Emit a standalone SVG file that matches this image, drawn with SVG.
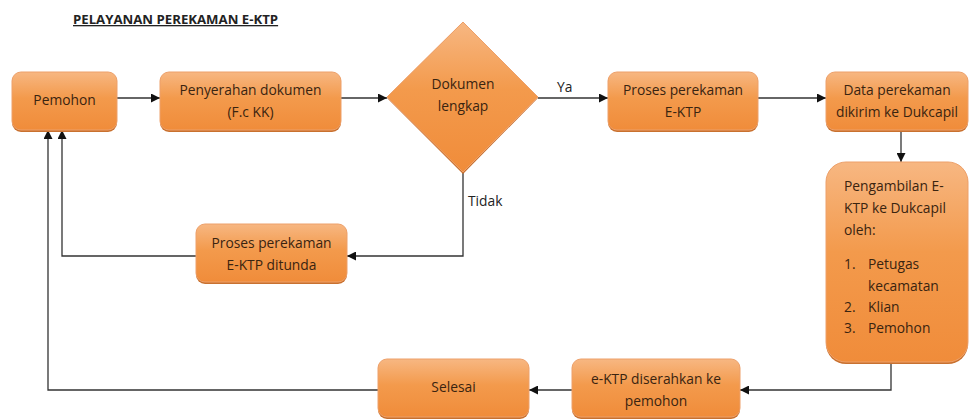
<svg xmlns="http://www.w3.org/2000/svg" width="969" height="420" viewBox="0 0 969 420">
<defs>
<linearGradient id="og" x1="0" y1="0" x2="0" y2="1">
<stop offset="0" stop-color="#f7b782"/>
<stop offset="0.45" stop-color="#f39a4c"/>
<stop offset="1" stop-color="#f08c3a"/>
</linearGradient>
<marker id="ah" viewBox="0 0 10 10" refX="10" refY="5" markerWidth="9" markerHeight="9" markerUnits="userSpaceOnUse" orient="auto">
<path d="M0,0 L10,5 L0,10 z" fill="#111"/>
</marker>
</defs>
<style>
.nd{fill:url(#og);stroke:#eda06a;stroke-width:1}
.sh{fill:#c9712f}
.t{font-family:"Open Sans","Liberation Sans",sans-serif;font-size:13.8px;fill:#3a2410;text-anchor:middle}
.tl{font-family:"Open Sans","Liberation Sans",sans-serif;font-size:13.8px;fill:#3a2410}
.lb{font-family:"Open Sans","Liberation Sans",sans-serif;font-size:13.8px;fill:#222}
.c{fill:none;stroke:#333;stroke-width:1.3}
.ttl{font-family:"Open Sans","Liberation Sans",sans-serif;font-size:13.2px;font-weight:bold;fill:#222;text-decoration:underline}
</style>
<rect width="969" height="420" fill="#fff"/>
<text class="ttl" x="73" y="24">PELAYANAN PEREKAMAN E-KTP</text>

<g id="connectors">
<path class="c" d="M117,98 L160,98" marker-end="url(#ah)"/>
<path class="c" d="M341,98 L387,98" marker-end="url(#ah)"/>
<path class="c" d="M538,98 L608,98" marker-end="url(#ah)"/>
<path class="c" d="M758,98 L826,98" marker-end="url(#ah)"/>
<path class="c" d="M901,131 L901,162" marker-end="url(#ah)"/>
<path class="c" d="M891,362 L891,390 L740,390" marker-end="url(#ah)"/>
<path class="c" d="M572,390 L529,390" marker-end="url(#ah)"/>
<path class="c" d="M378,390 L48,390 L48,130" marker-end="url(#ah)"/>
<path class="c" d="M463,172 L463,256 L347,256" marker-end="url(#ah)"/>
<path class="c" d="M196,256 L62,256 L62,130" marker-end="url(#ah)"/>
<text class="lb" x="557" y="92">Ya</text>
<text class="lb" x="468" y="206">Tidak</text>
</g>

<g id="pemohon">
<rect class="sh" x="12" y="74" width="105" height="58" rx="9"/>
<rect class="nd" x="12" y="72" width="105" height="58" rx="9"/>
<text class="t" x="64.5" y="105">Pemohon</text>
</g>

<g id="penyerahan">
<rect class="sh" x="160" y="74" width="181" height="58" rx="9"/>
<rect class="nd" x="160" y="72" width="181" height="58" rx="9"/>
<text class="t" x="250.5" y="95">Penyerahan dokumen</text>
<text class="t" x="250.5" y="117">(F.c KK)</text>
</g>

<g id="dokumen">
<path d="M463,22 L538,98 L463,174 L387,98 z" fill="#c9712f"/>
<path class="nd" d="M463,22 L538,97 L463,172 L387,97 z"/>
<text class="t" x="463" y="89">Dokumen</text>
<text class="t" x="463" y="111">lengkap</text>
</g>

<g id="proses">
<rect class="sh" x="608" y="74" width="150" height="58" rx="9"/>
<rect class="nd" x="608" y="72" width="150" height="58" rx="9"/>
<text class="t" x="683" y="95">Proses perekaman</text>
<text class="t" x="683" y="117">E-KTP</text>
</g>

<g id="data">
<rect class="sh" x="826" y="74" width="142" height="58" rx="9"/>
<rect class="nd" x="826" y="72" width="142" height="58" rx="9"/>
<text class="t" x="897" y="95">Data perekaman</text>
<text class="t" x="897" y="117">dikirim ke Dukcapil</text>
</g>

<g id="pengambilan">
<rect class="sh" x="826" y="164" width="142" height="200" rx="20"/>
<rect class="nd" x="826" y="162" width="142" height="200" rx="20"/>
<text class="tl" x="844" y="191">Pengambilan E-</text>
<text class="tl" x="844" y="213">KTP ke Dukcapil</text>
<text class="tl" x="844" y="235">oleh:</text>
<text class="tl" x="844" y="269">1.</text>
<text class="tl" x="868" y="269">Petugas</text>
<text class="tl" x="868" y="291">kecamatan</text>
<text class="tl" x="844" y="312">2.</text>
<text class="tl" x="868" y="312">Klian</text>
<text class="tl" x="844" y="333">3.</text>
<text class="tl" x="868" y="333">Pemohon</text>
</g>

<g id="tunda">
<rect class="sh" x="196" y="226" width="151" height="58" rx="9"/>
<rect class="nd" x="196" y="224" width="151" height="58" rx="9"/>
<text class="t" x="271.5" y="248">Proses perekaman</text>
<text class="t" x="271.5" y="270">E-KTP ditunda</text>
</g>

<g id="diserahkan">
<rect class="sh" x="572" y="361" width="168" height="58" rx="9"/>
<rect class="nd" x="572" y="359" width="168" height="58" rx="9"/>
<text class="t" x="656" y="384">e-KTP diserahkan ke</text>
<text class="t" x="656" y="406">pemohon</text>
</g>

<g id="selesai">
<rect class="sh" x="378" y="361" width="151" height="58" rx="9"/>
<rect class="nd" x="378" y="359" width="151" height="58" rx="9"/>
<text class="t" x="453.5" y="392">Selesai</text>
</g>
</svg>
